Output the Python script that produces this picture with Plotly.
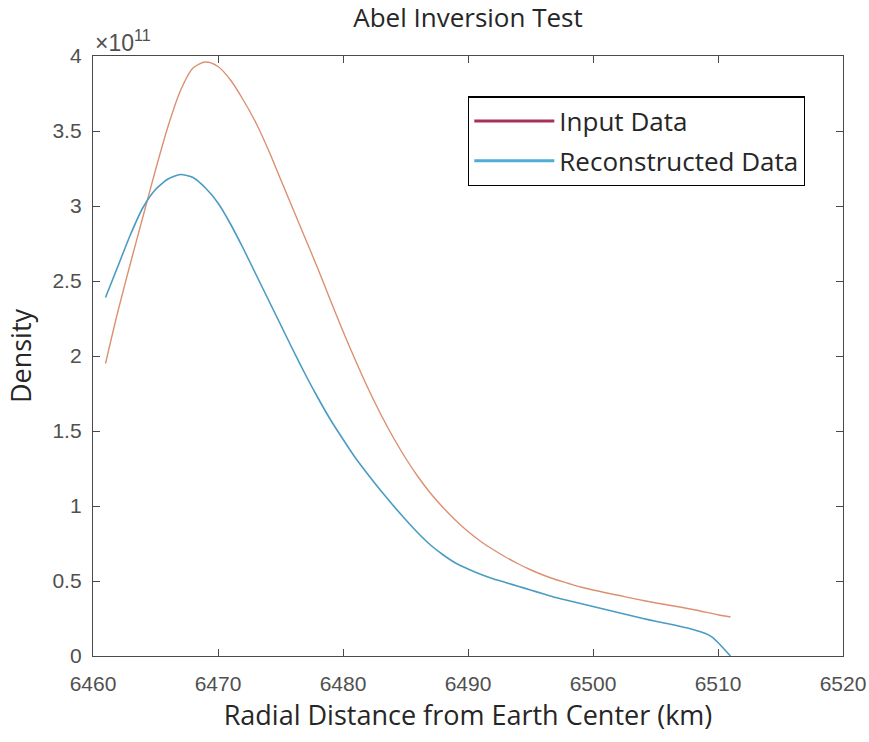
import plotly.graph_objects as go

# ---- data (density in units of 1e11) ----
x_input = [6461, 6462, 6463, 6464, 6465, 6466, 6467, 6468, 6469, 6470,
           6471, 6472, 6473, 6474, 6475, 6476, 6477, 6478, 6479, 6480,
           6481, 6482, 6483, 6484, 6485, 6486, 6487, 6488, 6489, 6490,
           6491, 6492, 6493, 6494, 6495, 6496, 6497, 6498, 6499, 6500,
           6502, 6504, 6506, 6508, 6510, 6511]
y_input = [1.95, 2.30, 2.62, 2.93, 3.24, 3.53, 3.77, 3.92, 3.96, 3.93,
           3.84, 3.71, 3.56, 3.38, 3.18, 2.98, 2.78, 2.58, 2.37, 2.165,
           1.97, 1.785, 1.615, 1.46, 1.32, 1.195, 1.085, 0.99, 0.905, 0.83,
           0.765, 0.71, 0.66, 0.615, 0.575, 0.54, 0.51, 0.485, 0.46, 0.44,
           0.405, 0.37, 0.34, 0.31, 0.275, 0.26]

x_recon = [6461, 6462, 6463, 6464, 6465, 6466, 6467, 6468, 6469, 6470,
           6471, 6472, 6473, 6474, 6475, 6476, 6477, 6478, 6479, 6480,
           6481, 6482, 6483, 6484, 6485, 6486, 6487, 6488, 6489, 6490,
           6491, 6492, 6493, 6494, 6495, 6496, 6497, 6498, 6499, 6500,
           6501, 6502, 6503, 6504, 6505, 6506, 6507, 6508, 6509, 6509.5,
           6510, 6510.5, 6511]
y_recon = [2.39, 2.60, 2.81, 2.99, 3.11, 3.18, 3.21, 3.19, 3.12, 3.02,
           2.88, 2.72, 2.55, 2.38, 2.21, 2.04, 1.875, 1.72, 1.575, 1.445,
           1.32, 1.21, 1.105, 1.005, 0.91, 0.82, 0.74, 0.675, 0.62, 0.58,
           0.545, 0.515, 0.49, 0.465, 0.44, 0.415, 0.39, 0.37, 0.35, 0.33,
           0.31, 0.29, 0.27, 0.25, 0.232, 0.215, 0.197, 0.177, 0.15, 0.128,
           0.09, 0.045, 0.0]

x_ticks = [6460, 6470, 6480, 6490, 6500, 6510, 6520]
y_ticks = [0, 0.5, 1, 1.5, 2, 2.5, 3, 3.5, 4]
y_ticktext = ["0", "0.5", "1", "1.5", "2", "2.5", "3", "3.5", "4"]
legend_names = ["Input Data", "Reconstructed Data"]

# ---- styles ----
col_input_line = "#DC9070"
col_recon_line = "#4A9CC2"
col_input_legend = "#A8305C"
col_recon_legend = "#4DAED2"
axis_col = "#4a4a4a"
tick_font = dict(family="Liberation Sans, Arial, sans-serif", size=21, color="#505050")
label_font = dict(family="Open Sans, Noto Sans, sans-serif", size=27, color="#262626")
title_font = dict(family="Open Sans, Noto Sans, sans-serif", size=26, color="#262626")

fig = go.Figure()
fig.add_trace(go.Scatter(x=x_input, y=y_input, mode="lines",
                         line=dict(color=col_input_line, width=1.4, shape="spline", smoothing=0.8),
                         showlegend=False, name=legend_names[0]))
fig.add_trace(go.Scatter(x=x_recon, y=y_recon, mode="lines",
                         line=dict(color=col_recon_line, width=1.6, shape="spline", smoothing=0.6),
                         showlegend=False, name=legend_names[1]))
# legend entries (styled as in the reference legend)
fig.add_trace(go.Scatter(x=[None], y=[None], mode="lines", name=legend_names[0],
                         line=dict(color=col_input_legend, width=3), legendgroup="a"))
fig.add_trace(go.Scatter(x=[None], y=[None], mode="lines", name=legend_names[1],
                         line=dict(color=col_recon_legend, width=3), legendgroup="b"))

axis_common = dict(showline=True, linecolor=axis_col, linewidth=1.3, mirror="ticks",
                   ticks="inside", ticklen=7, tickcolor=axis_col, tickwidth=1.2,
                   showgrid=False, zeroline=False, tickfont=tick_font, automargin=False)

fig.update_layout(
    width=869, height=742,
    margin=dict(l=93, r=26, t=56, b=86),
    paper_bgcolor="white", plot_bgcolor="white",
    title=dict(text="Abel Inversion Test", font=title_font, x=0.5, xref="paper",
               xanchor="center", y=1 - 18 / 742, yanchor="middle"),
    xaxis=dict(range=[6460, 6520], tickvals=x_ticks,
               title=dict(text="Radial Distance from Earth Center (km)", font=label_font, standoff=11),
               ticklabelstandoff=9, **axis_common),
    yaxis=dict(range=[0, 4], tickvals=y_ticks, ticktext=y_ticktext,
               title=dict(text="Density", font=label_font, standoff=12),
               ticklabelstandoff=6, **axis_common),
    legend=dict(x=0.5, y=0.933, xanchor="left", yanchor="top",
                bordercolor="#000000", borderwidth=1.3, bgcolor="white",
                font=dict(family="Open Sans, Noto Sans, sans-serif", size=26, color="#262626"),
                itemwidth=80, tracegroupgap=3, traceorder="grouped"),
    annotations=[dict(text="×10<sup>11</sup>", xref="paper", yref="paper", x=0.0, y=1.0,
                      xanchor="left", yanchor="bottom", showarrow=False, yshift=-2,
                      font=dict(family="Liberation Sans, Arial, sans-serif", size=23, color="#505050"))],
)

fig.write_html("out.html")
